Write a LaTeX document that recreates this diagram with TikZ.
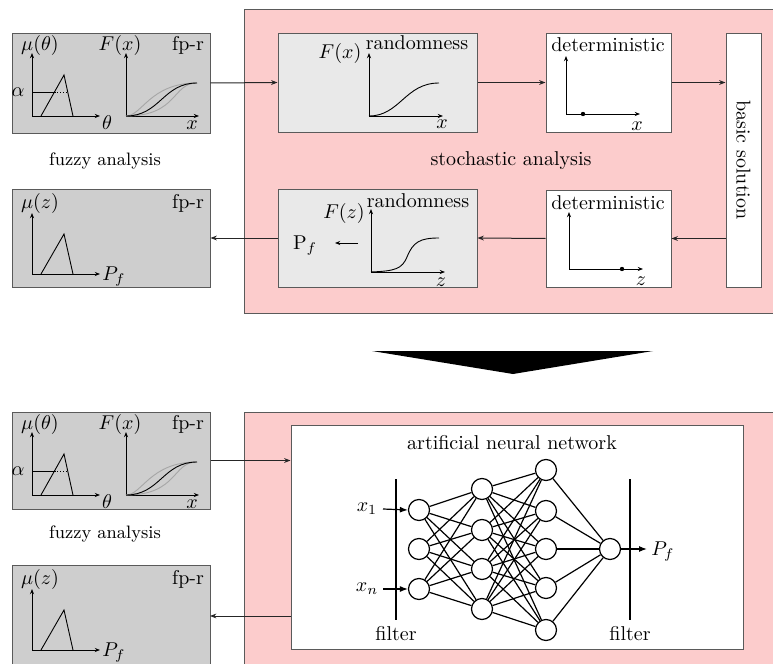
\documentclass[tikz,border=0pt]{standalone}
\usetikzlibrary{arrows.meta,calc}
\definecolor{pinkbg}{RGB}{252,204,204}
\definecolor{greybox}{RGB}{206,206,206}
\definecolor{lightbox}{RGB}{233,233,233}
\definecolor{edgec}{RGB}{90,90,90}
\newcommand\fuzzyfull[1]{%
  \draw[ax] (32,116) -- (32,53);
  \draw[ax] (32,116) -- (100,116);
  \draw[thinl] (41,116) -- (64,75) -- (73,116);
  \draw[thinl] (32,92) -- (54.5,92);
  \draw[thinl,densely dotted] (54.5,92) -- (67.7,92);
  \draw[ax] (126,116) -- (126,53);
  \draw[ax] (126,116) -- (199,116);
  \draw[thinl,black!35] (126,116) .. controls (142,116) and (150,83) .. (197,83);
  \draw[thinl,black!35] (126,116) .. controls (178,116) and (172,83) .. (197,83);
  \draw[thinl] (126,116) .. controls (160,116) and (163,83) .. (197,83);
  \node[lbl] (#1mu) at (40,45) {$\mu(\theta)$};
  \node[lbl] (#1F) at (120,45) {$F(x)$};
  \node[lbl] (#1fp) at (188,45) {fp-r};
  \node[lbl] (#1al) at (18,92) {$\alpha$};
  \node[lbl] (#1th) at (107,123) {$\theta$};
  \node[lbl] (#1x) at (192,125) {$x$};
}
\newcommand\fuzzyout[1]{%
  \draw[ax] (32,274) -- (32,213);
  \draw[ax] (32,274) -- (100,274);
  \draw[thinl] (41,274) -- (64,234) -- (73,274);
  \node[lbl] (#1mu) at (40,203) {$\mu(z)$};
  \node[lbl] (#1fp) at (188,203) {fp-r};
  \node[lbl,anchor=west] (#1pf) at (102,277) {$P_f$};
}
\begin{document}
\begin{tikzpicture}[x=0.5pt,y=-0.5pt,font=\fontsize{10}{12}\selectfont,
  box/.style={draw=edgec,line width=0.5pt,inner sep=0pt},
  conn/.style={draw=black!85,line width=0.5pt,-{Stealth[length=3.2pt,width=2.4pt]}},
  ax/.style={line width=0.45pt,-{Stealth[length=2.6pt,width=2pt]}},
  thinl/.style={line width=0.45pt},
  lbl/.style={inner sep=0pt},
  neuron/.style={circle,draw,line width=0.6pt,minimum size=10.5pt,inner sep=0pt,fill=white},
  syn/.style={line width=0.6pt},
  nnarrow/.style={line width=0.6pt,-{Latex[length=4pt,width=3pt]}}]
\useasboundingbox (0,0) rectangle (773,664);
\clip (0,0) rectangle (773,664);

% ---------------- top part ----------------
\node[box,fill=pinkbg,minimum width=270pt,minimum height=152pt,anchor=north west] (pink1) at (244,9) {};
\node[box,fill=greybox,minimum width=99pt,minimum height=50pt] (fz1) at (111,83) {};
\node[box,fill=greybox,minimum width=99pt,minimum height=49pt] (fz2) at (111,238) {};
\node[box,fill=lightbox,minimum width=99.5pt,minimum height=49.5pt] (rnd1) at (377.5,82.5) {};
\node[box,fill=lightbox,minimum width=99.5pt,minimum height=49pt] (rnd2) at (377.5,238) {};
\node[box,fill=white,minimum width=62.5pt,minimum height=49.5pt] (det1) at (608.5,82.5) {};
\node[box,fill=white,minimum width=62.5pt,minimum height=48.5pt] (det2) at (608.5,238.5) {};
\node[box,fill=white,minimum width=17.5pt,minimum height=127pt] (basic) at (743.5,160) {};
\node[rotate=-90,lbl] (basictxt) at (basic.center) {basic solution};
\node[lbl] (stoch) at (511,161) {stochastic analysis};
\node[lbl,font=\fontsize{9}{11}\selectfont] (fuzzy1) at (105,161) {fuzzy analysis};

\fuzzyfull{a}
\fuzzyout{b}

% randomness (input)
\draw[ax] (369,116) -- (369,53);
\draw[ax] (369,116) -- (443,116);
\draw[thinl] (369,116) .. controls (400,116) and (405,83) .. (439,83);
\node[lbl] (r1t) at (417,43) {randomness};
\node[lbl] (r1F) at (340,54) {$F(x)$};
\node[lbl] (r1x) at (442,124) {$x$};

% deterministic (input)
\draw[ax] (566,114) -- (566,56);
\draw[ax] (566,114) -- (640,114);
\fill (583,114) circle (2.2);
\node[lbl] (d1t) at (608,45) {deterministic};
\node[lbl] (d1x) at (637,126) {$x$};

% deterministic (output)
\draw[ax] (569,269) -- (569,212);
\draw[ax] (569,269) -- (643,269);
\fill (622,269) circle (2.2);
\node[lbl] (d2t) at (608,203) {deterministic};
\node[lbl] (d2z) at (641,281) {$z$};

% randomness (output)
\draw[ax] (371,272) -- (371,209);
\draw[ax] (371,272) -- (445,272);
\draw[thinl] (371,272) .. controls (395,271) and (402,269) .. (407,257) .. controls (413,242) and (420,238) .. (439,238);
\node[lbl] (r2t) at (418,201) {randomness};
\node[lbl] (r2F) at (344,213) {$F(z)$};
\node[lbl] (r2z) at (441,282) {$z$};
\node[lbl] (r2P) at (305,246) {P$_f$};
\coordinate (r2a) at (358,243);
\coordinate (r2b) at (335,243);
\draw[thinl,-{Stealth[length=2.6pt,width=2pt]}] (r2a) -- (r2b);

% connectors
\draw[conn] (fz1.east) -- (rnd1.west);
\draw[conn] (rnd1.east) -- (det1.west);
\draw[conn] (det1.east) -- (det1.east -| basic.west);
\draw[conn] (basic.west |- det2.east) -- (det2.east);
\draw[conn] (det2.west) -- (rnd2.east);
\draw[conn] (rnd2.west) -- (fz2.east);

% big arrow
\fill (372,351) -- (653,351) -- (513,374) -- cycle;

% ---------------- bottom part ----------------
\node[box,fill=pinkbg,minimum width=270pt,minimum height=150pt,anchor=north west] (pink2) at (244,412) {};
\node[box,fill=greybox,minimum width=99pt,minimum height=48.5pt] (fz3) at (111,460.5) {};
\node[box,fill=greybox,minimum width=99pt,minimum height=70pt,anchor=north] (fz4) at (111,565) {};
\node[box,fill=white,minimum width=226pt,minimum height=112pt] (ann) at (517,537) {};
\node[lbl,font=\fontsize{9}{11}\selectfont] (fuzzy2) at (105,534) {fuzzy analysis};
\begin{scope}[shift={(0,379)}]
\fuzzyfull{c}
\end{scope}
\begin{scope}[shift={(0,376)}]
\fuzzyout{d}
\end{scope}

\coordinate (fz4in) at (210,616);
\draw[conn] (fz3.east) -- (fz3.east -| ann.west);
\draw[conn] (ann.west |- fz4in) -- (fz4in);

\node[lbl] (anntitle) at (512,443) {artificial neural network};

% neurons
\foreach \i/\yy in {1/510,2/549,3/589} \node[neuron] (a\i) at (419,\yy) {};
\foreach \i/\yy in {1/489,2/530,3/569,4/609} \node[neuron] (h\i) at (482,\yy) {};
\foreach \i/\yy in {1/470,2/511,3/549,4/588,5/630} \node[neuron] (g\i) at (546,\yy) {};
\node[neuron] (out) at (610,549) {};
\foreach \i in {1,2,3} \foreach \j in {1,2,3,4} \draw[syn] (a\i) -- (h\j);
\foreach \i in {1,2,3,4} \foreach \j in {1,2,3,4,5} \draw[syn] (h\i) -- (g\j);
\foreach \j in {1,2,3,4,5} \draw[syn] (g\j) -- (out);

% filters
\coordinate (f1t) at (396,479); \coordinate (f1b) at (396,620);
\coordinate (f2t) at (630,479); \coordinate (f2b) at (630,620);
\draw[syn] (f1t) -- (f1b);
\draw[syn] (f2t) -- (f2b);
\node[lbl] (fl1) at (396,634) {filter};
\node[lbl] (fl2) at (630,634) {filter};

% inputs / output
\node[lbl] (x1) at (367,509) {$x_1$};
\node[lbl] (xn) at (367,589) {$x_n$};
\draw[nnarrow] (x1.east -| 383,0) -- (a1.west);
\draw[nnarrow] (xn.east -| 383,0) -- (a3.west);
\coordinate (pfend) at (647,549);
\draw[nnarrow] (out.east) -- (pfend);
\node[lbl,anchor=west] (pfo) at (651,552) {$P_f$};
\end{tikzpicture}
\end{document}
